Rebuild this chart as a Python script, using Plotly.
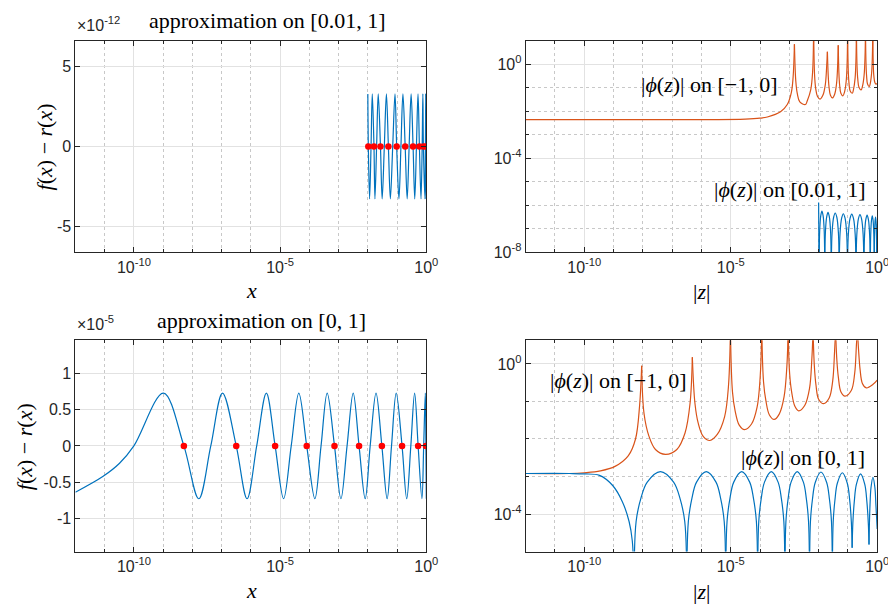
import plotly.graph_objects as go

# ---------------- data ----------------
# All x positions are log10 values; converted to real values below.

# Top-left: f(x) - r(x) for the approximation on [0.01, 1]  (units of 1e-12)
tl_logx = [-2.0, -1.983, -1.94, -1.89, -1.848, -1.79, -1.757, -1.70, -1.645, -1.568,
           -1.51, -1.436, -1.365, -1.297, -1.23, -1.149, -1.071, -1.014, -0.936, -0.868,
           -0.80, -0.723, -0.655, -0.588, -0.52, -0.453, -0.395, -0.338, -0.284, -0.236,
           -0.182, -0.142, -0.118, -0.10, -0.045, -0.03, -0.02, -0.014, 0.0]
tl_err = [3.27, 0, -3.27, 0, 3.27, 0, -3.27, 0, 3.27, 0,
          -3.27, 0, 3.27, 0, -3.27, 0, 3.27, 0, -3.27, 0,
          3.27, 0, -3.27, 0, 3.27, 0, -3.27, 0, 3.27, 0,
          -3.27, 0, 3.27, 0, -3.27, 0, 3.27, 0, -3.27]
tl_pts_logx = [-1.983, -1.79, -1.568, -1.297, -1.014, -0.723, -0.453, -0.236, -0.10, -0.014]

# Bottom-left: f(x) - r(x) for the approximation on [0, 1]  (units of 1e-5)
bl_logx = [-12.0, -11.05, -10.49, -10.0, -8.99, -8.29, -7.78, -7.37, -6.97, -6.50,
           -6.13, -5.80, -5.47, -5.17, -4.88, -4.62, -4.36, -4.09, -3.81, -3.60,
           -3.39, -3.14, -2.92, -2.71, -2.50, -2.30, -2.09, -1.92, -1.72, -1.52,
           -1.34, -1.19, -1.03, -0.83, -0.67, -0.53, -0.40, -0.28, -0.15, -0.09,
           -0.034, -0.014, 0.0]
bl_err = [-0.64, -0.42, -0.24, 0, 0.73, 0, -0.73, 0, 0.73, 0,
          -0.73, 0, 0.73, 0, -0.73, 0, 0.73, 0, -0.73, 0,
          0.73, 0, -0.73, 0, 0.73, 0, -0.73, 0, 0.73, 0,
          -0.73, 0, 0.73, 0, -0.73, 0, 0.73, 0, -0.73, 0,
          0.73, 0, -0.73]
bl_pts_logx = [-8.29, -6.50, -5.17, -4.09, -3.14, -2.30, -1.52, -0.83, -0.28, -0.014]

# Top-right: |phi(z)| on [-1,0] (orange) and on [0.01,1] (blue); log10 values
tr_neg_logz = [-12, -6, -4.5, -4.0, -3.75, -3.3, -3.07, -2.93, -2.87, -2.825, None,
               -2.825, -2.779, -2.727, -2.642, -2.45, -2.386, -2.268, -2.203, -2.17, None,
               -2.17, -2.137, -2.10, -2.038, -1.95, -1.855, -1.77, -1.724, -1.70, None,
               -1.70, -1.674, -1.644, -1.596, -1.53, -1.452, -1.386, -1.349, -1.33, None,
               -1.33, -1.308, -1.282, -1.24, -1.17, -1.116, -1.058, -1.026, -1.01, None,
               -1.01, -0.989, -0.965, -0.926, -0.85, -0.809, -0.755, -0.725, -0.71, None,
               -0.71, -0.688, -0.663, -0.623, -0.55, -0.502, -0.4465, -0.4155, -0.40, None,
               -0.40, -0.3825, -0.3625, -0.33, -0.27, -0.2325, -0.1875, -0.1625, -0.15, None,
               -0.15, -0.135, -0.115, -0.08, -0.04, 0.0]
tr_neg_logphi = [-2.36, -2.36, -2.34, -2.30, -2.25, -2.03, -1.72, -1.2, -0.55, 0.84, None,
                 0.84, -0.72, -1.26, -1.61, -1.72, -1.56, -1.09, -0.30, 1.5, None,
                 1.5, -0.49, -1.03, -1.38, -1.49, -1.33, -0.86, -0.07, 0.52, None,
                 0.52, -0.44, -0.98, -1.33, -1.44, -1.28, -0.81, -0.02, 0.80, None,
                 0.80, -0.35, -0.89, -1.24, -1.35, -1.19, -0.72, 0.07, 1.5, None,
                 1.5, -0.24, -0.78, -1.13, -1.24, -1.08, -0.61, 0.18, 1.5, None,
                 1.5, -0.10, -0.64, -0.99, -1.10, -0.94, -0.47, 0.32, 1.5, None,
                 1.5, 0.04, -0.50, -0.85, -0.96, -0.80, -0.33, 0.46, 1.5, None,
                 1.5, 0.0, -0.5, -0.78, -0.85, -0.82]
tr_pos_logz = [-2.0, -1.983, None,
               -1.983, -1.964, -1.925, -1.887, -1.848, -1.809, -1.79, None,
               -1.79, -1.768, -1.723, -1.679, -1.635, -1.59, -1.568, None,
               -1.568, -1.541, -1.487, -1.433, -1.378, -1.324, -1.297, None,
               -1.297, -1.269, -1.212, -1.156, -1.099, -1.042, -1.014, None,
               -1.014, -0.985, -0.927, -0.869, -0.81, -0.752, -0.723, None,
               -0.723, -0.696, -0.642, -0.588, -0.534, -0.48, -0.453, None,
               -0.453, -0.431, -0.388, -0.345, -0.301, -0.258, -0.236, None,
               -0.236, -0.222, -0.195, -0.168, -0.141, -0.114, -0.10, None,
               -0.10, -0.091, -0.074, -0.057, -0.04, -0.023, -0.014, None,
               -0.014, 0.0]
tr_pos_logphi = [-5.88, -9, None,
                 -9, -7.1, -6.43, -6.25, -6.43, -7.1, -9, None,
                 -9, -7.15, -6.48, -6.3, -6.48, -7.15, -9, None,
                 -9, -7.18, -6.51, -6.33, -6.51, -7.18, -9, None,
                 -9, -7.21, -6.54, -6.36, -6.54, -7.21, -9, None,
                 -9, -7.23, -6.56, -6.38, -6.56, -7.23, -9, None,
                 -9, -7.25, -6.58, -6.4, -6.58, -7.25, -9, None,
                 -9, -7.27, -6.6, -6.42, -6.6, -7.27, -9, None,
                 -9, -7.3, -6.63, -6.45, -6.63, -7.3, -9, None,
                 -9, -7.35, -6.68, -6.5, -6.68, -7.35, -9, None,
                 -9, -6.8]

# Bottom-right: |phi(z)| on [-1,0] (orange) and on [0,1] (blue); log10 values
br_neg_logz = [-12, -10.5, -10.0, -9.45, -8.95, -8.5, -8.25, -8.11, -8.04, None,
               -8.04, -7.96, -7.79, -7.57, -7.23, -6.84, -6.56, -6.39, -6.31, None,
               -6.31, -6.22, -6.11, -5.94, -5.71, -5.46, -5.21, -5.08, -5.01, None,
               -5.01, -4.94, -4.85, -4.71, -4.53, -4.29, -4.10, -3.995, -3.94, None,
               -3.94, -3.88, -3.80, -3.68, -3.52, -3.34, -3.18, -3.085, -3.04, None,
               -3.04, -2.99, -2.92, -2.81, -2.68, -2.47, -2.31, -2.23, -2.19, None,
               -2.19, -2.145, -2.09, -2.00, -1.83, -1.64, -1.52, -1.455, -1.42, None,
               -1.42, -1.38, -1.325, -1.24, -1.10, -0.885, -0.77, -0.707, -0.675, None,
               -0.675, -0.635, -0.585, -0.505, -0.37, -0.15, 0.0]
br_neg_logphi = [-2.92, -2.92, -2.90, -2.85, -2.73, -2.45, -2.0, -1.1, -0.05, None,
                 -0.05, -1.32, -1.93, -2.28, -2.41, -2.28, -1.84, -1.06, 0.18, None,
                 0.18, -1.06, -1.58, -1.93, -2.04, -1.88, -1.41, -0.62, 0.9, None,
                 0.9, -0.75, -1.25, -1.63, -1.75, -1.60, -1.15, -0.35, 0.9, None,
                 0.9, -0.48, -0.98, -1.36, -1.48, -1.33, -0.88, -0.08, 0.9, None,
                 0.9, -0.25, -0.75, -1.13, -1.25, -1.10, -0.65, 0.15, 0.9, None,
                 0.9, -0.06, -0.56, -0.94, -1.06, -0.91, -0.46, 0.34, 0.9, None,
                 0.9, 0.14, -0.36, -0.74, -0.86, -0.71, -0.26, 0.54, 0.9, None,
                 0.9, 0.36, -0.14, -0.52, -0.64, -0.55, -0.43]
br_pos_logz = [-12, -10.5, -10.0, -9.48, -9.03, -8.70, -8.47, -8.36, -8.30, None,
               -8.30, -8.23, -8.07, -7.85, -7.40, -6.95, -6.73, -6.57, -6.50, None,
               -6.50, -6.447, -6.327, -6.167, -5.835, -5.503, -5.343, -5.223, -5.17, None,
               -5.17, -5.126, -5.028, -4.897, -4.625, -4.353, -4.222, -4.124, -4.08, None,
               -4.08, -4.043, -3.959, -3.847, -3.615, -3.383, -3.271, -3.187, -3.15, None,
               -3.15, -3.116, -3.041, -2.94, -2.73, -2.52, -2.419, -2.344, -2.31, None,
               -2.31, -2.279, -2.209, -2.115, -1.92, -1.725, -1.631, -1.561, -1.53, None,
               -1.53, -1.503, -1.442, -1.361, -1.19, -1.021, -0.94, -0.882, -0.855, None,
               -0.855, -0.832, -0.78, -0.711, -0.568, -0.424, -0.355, -0.303, -0.28, None,
               -0.28, -0.269, -0.245, -0.212, -0.145, -0.078, -0.045, -0.02, 0.0]
br_pos_logphi = [-2.92, -2.92, -2.93, -2.97, -3.24, -3.67, -4.2, -4.72, -6.0, None,
                 -6.0, -4.2, -3.59, -3.15, -2.87, -3.15, -3.59, -4.2, -6.0, None,
                 -6.0, -4.2, -3.59, -3.15, -2.87, -3.15, -3.59, -4.2, -6.0, None,
                 -6.0, -4.2, -3.59, -3.15, -2.87, -3.15, -3.59, -4.2, -6.0, None,
                 -6.0, -4.2, -3.59, -3.15, -2.87, -3.15, -3.59, -4.2, -6.0, None,
                 -6.0, -4.2, -3.59, -3.15, -2.87, -3.15, -3.59, -4.2, -6.0, None,
                 -6.0, -4.2, -3.6, -3.16, -2.88, -3.16, -3.6, -4.2, -6.0, None,
                 -6.0, -4.22, -3.62, -3.18, -2.90, -3.18, -3.62, -4.22, -4.9, None,
                 -4.9, -4.25, -3.65, -3.21, -2.93, -3.21, -3.65, -4.25, -4.81, None,
                 -4.81, -4.35, -3.75, -3.30, -3.02, -3.30, -3.75, -4.1, -4.4]

# tick labels
x_tick_exps = [-10, -5, 0]
tl_yticks = [-5, 0, 5]
bl_yticks = [-1, -0.5, 0, 0.5, 1]
tr_ytick_exps = [-8, -4, 0]
br_ytick_exps = [-4, 0]


def pw(vals):
    return [None if v is None else 10.0 ** v for v in vals]


BLUE = "#0072BD"
ORANGE = "#D95319"
AX = "#262626"
W, H = 896, 608

fig = go.Figure()
line_kw = dict(shape="spline", smoothing=1.0, width=1.2)

fig.add_trace(go.Scatter(x=pw(tl_logx), y=tl_err, mode="lines",
                         line=dict(color=BLUE, **line_kw), xaxis="x", yaxis="y"))
fig.add_trace(go.Scatter(x=pw(tl_pts_logx), y=[0] * len(tl_pts_logx), mode="markers",
                         marker=dict(color="#FF0000", size=6.5), xaxis="x", yaxis="y"))
fig.add_trace(go.Scatter(x=pw(tr_neg_logz), y=pw(tr_neg_logphi), mode="lines",
                         line=dict(color=ORANGE, **line_kw), xaxis="x2", yaxis="y2"))
fig.add_trace(go.Scatter(x=pw(tr_pos_logz), y=pw(tr_pos_logphi), mode="lines",
                         line=dict(color=BLUE, **line_kw), xaxis="x2", yaxis="y2"))
fig.add_trace(go.Scatter(x=pw(bl_logx), y=bl_err, mode="lines",
                         line=dict(color=BLUE, **line_kw), xaxis="x3", yaxis="y3"))
fig.add_trace(go.Scatter(x=pw(bl_pts_logx), y=[0] * len(bl_pts_logx), mode="markers",
                         marker=dict(color="#FF0000", size=6.5), xaxis="x3", yaxis="y3"))
fig.add_trace(go.Scatter(x=pw(br_neg_logz), y=pw(br_neg_logphi), mode="lines",
                         line=dict(color=ORANGE, **line_kw), xaxis="x4", yaxis="y4"))
fig.add_trace(go.Scatter(x=pw(br_pos_logz), y=pw(br_pos_logphi), mode="lines",
                         line=dict(color=BLUE, **line_kw), xaxis="x4", yaxis="y4"))


def px_x(p):
    return p / W


def px_y(p):
    return 1 - p / H


tick_font = dict(family="Liberation Sans, Arial, sans-serif", size=16, color=AX)
base = dict(showline=True, linecolor=AX, linewidth=1, mirror="ticks", ticks="inside",
            ticklen=5, tickcolor=AX, tickwidth=1, showgrid=True, gridcolor="#e2e2e2",
            gridwidth=1, zeroline=False, tickfont=tick_font, fixedrange=True)

minor_dec = [e for e in range(-12, 0) if e not in x_tick_exps]


def logx_axis(domain, anchor):
    return dict(base, type="log", range=[-12, 0], domain=domain, anchor=anchor,
                tickmode="array", tickvals=[10.0 ** e for e in x_tick_exps],
                ticktext=["10<sup>%d</sup>" % e for e in x_tick_exps],
                minor=dict(tickmode="array", tickvals=[10.0 ** e for e in minor_dec],
                           ticks="inside", ticklen=3, tickcolor=AX, showgrid=True,
                           gridcolor="#c8c8c8", griddash="dot", gridwidth=1))


def logy_axis(domain, anchor, rng, exps):
    lo, hi = int(round(rng[0])), int(rng[1] // 1)
    minor = [e for e in range(lo, hi + 1) if e not in exps]
    return dict(base, type="log", range=rng, domain=domain, anchor=anchor,
                tickmode="array", tickvals=[10.0 ** e for e in exps],
                ticktext=["10<sup>%d</sup>" % e for e in exps],
                minor=dict(tickmode="array", tickvals=[10.0 ** e for e in minor],
                           ticks="inside", ticklen=3, tickcolor=AX, showgrid=True,
                           gridcolor="#c8c8c8", griddash="dot", gridwidth=1))


xL = [px_x(68.3), px_x(424.0)]
xR = [px_x(524.7), px_x(881.0)]
yT = [px_y(248.0), px_y(33.0)]
yB = [px_y(551.7), px_y(337.3)]

fig.update_layout(
    width=W, height=608, margin=dict(l=0, r=0, t=0, b=0),
    paper_bgcolor="white", plot_bgcolor="white", showlegend=False,
    xaxis=logx_axis(xL, "y"),
    yaxis=dict(base, range=[-6.6, 6.6], domain=yT, anchor="x", tickmode="array",
               tickvals=tl_yticks, ticktext=[str(v) for v in tl_yticks]),
    xaxis2=logx_axis(xR, "y2"),
    yaxis2=logy_axis(yT, "x2", [-8, 1], tr_ytick_exps),
    xaxis3=logx_axis(xL, "y3"),
    yaxis3=dict(base, range=[-1.46, 1.46], domain=yB, anchor="x3", tickmode="array",
                tickvals=bl_yticks, ticktext=[("%g" % v) for v in bl_yticks]),
    xaxis4=logx_axis(xR, "y4"),
    yaxis4=logy_axis(yB, "x4", [-5, 0.63], br_ytick_exps),
)

serif = "Liberation Serif, Times New Roman, serif"
txt = dict(family=serif, size=22, color="black")
lab = dict(family=serif, size=22, color="black")
sans = dict(family="Liberation Sans, Arial, sans-serif", size=16, color=AX)


def ann(x, y, text, font=txt, xanchor="center", angle=0):
    fig.add_annotation(x=px_x(x), y=px_y(y), xref="paper", yref="paper", text=text,
                       showarrow=False, font=font, xanchor=xanchor, yanchor="middle",
                       textangle=angle)


ylab = "<i>f</i>(<i>x</i>) − <i>r</i>(<i>x</i>)"
ann(263, 13, "approximation on [0.01, 1]")
ann(257, 317, "approximation on [0, 1]")
ann(68, 16, "×10<sup>-12</sup>", font=sans, xanchor="left")
ann(68, 320, "×10<sup>-5</sup>", font=sans, xanchor="left")
ann(37, 141, ylab, font=lab, angle=-90)
ann(17, 445, ylab, font=lab, angle=-90)
ann(246.5, 287, "<i>x</i>", font=lab)
ann(246.5, 591, "<i>x</i>", font=lab)
ann(703, 288, "|<i>z</i>|", font=lab)
ann(703, 592, "|<i>z</i>|", font=lab)
ann(711, 78, "|<i>ϕ</i>(<i>z</i>)| on [−1, 0]")
ann(793, 184, "|<i>ϕ</i>(<i>z</i>)| on [0.01, 1]")
ann(618, 378, "|<i>ϕ</i>(<i>z</i>)| on [−1, 0]")
ann(806, 456, "|<i>ϕ</i>(<i>z</i>)| on [0, 1]")

fig.write_html("out.html")
